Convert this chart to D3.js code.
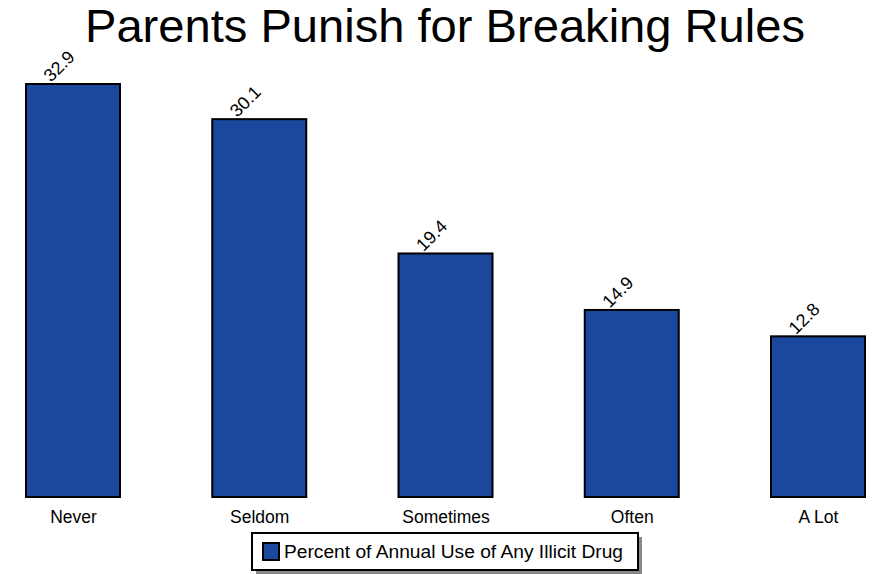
<!DOCTYPE html>
<html><head><meta charset="utf-8">
<script src="https://cdn.jsdelivr.net/npm/d3@7"></script>
<style>body{margin:0;background:#fff;}svg{display:block;font-family:"Liberation Sans",Arial,sans-serif;}</style>
</head><body>
<svg id="chart" width="872" height="574"></svg>
<script>
const categories = ["Never","Seldom","Sometimes","Often","A Lot"];
const values = [32.9, 30.1, 19.4, 14.9, 12.8];
const valueLabels = ["32.9","30.1","19.4","14.9","12.8"];
const seriesName = "Percent of Annual Use of Any Illicit Drug";
const titleText = "Parents Punish for Breaking Rules";

const svg = d3.select("#chart");
const baseY = 497;
const x = d3.scalePoint().domain(categories).range([73, 818]);
const barW = 94;
const y = d3.scaleLinear().domain([0, 32.9]).range([baseY, 84]);
const color = "#1B479C";

svg.append("text").attr("x", 85).attr("y", 42)
  .attr("font-size", 46).attr("fill","#000")
  .attr("textLength", 720).attr("lengthAdjust","spacingAndGlyphs")
  .text(titleText);

svg.selectAll("rect.bar").data(values).join("rect").attr("class","bar")
  .attr("x", (d,i)=>x(categories[i]) - barW/2)
  .attr("y", d=>y(d))
  .attr("width", barW)
  .attr("height", d=>baseY - y(d))
  .attr("fill", color).attr("stroke","#000").attr("stroke-width",2);

svg.selectAll("text.val").data(values).join("text").attr("class","val")
  .attr("text-anchor","middle").attr("font-size",18)
  .attr("transform",(d,i)=>`translate(${x(categories[i]) - 14},${y(d) - 18}) rotate(-45)`)
  .attr("dy","0.35em")
  .text((d,i)=>valueLabels[i]);

const axis = d3.axisBottom(x).tickSize(0).tickPadding(0);
const ag = svg.append("g").attr("transform",`translate(0,${baseY})`).call(axis);
ag.select(".domain").remove();
ag.selectAll("text").attr("font-size",17.5).attr("font-family","Liberation Sans, Arial, sans-serif")
  .attr("fill","#000").attr("dy",null).attr("y",26);

// legend
const lg = svg.append("g");
lg.append("rect").attr("x",256).attr("y",537).attr("width",386).attr("height",37).attr("fill","#888");
lg.append("rect").attr("x",252).attr("y",533).attr("width",386).attr("height",37).attr("fill","#fff").attr("stroke","#000").attr("stroke-width",2);
lg.append("rect").attr("x",263).attr("y",543).attr("width",16).attr("height",17).attr("fill",color).attr("stroke","#000").attr("stroke-width",2);
lg.append("text").attr("x",284).attr("y",558).attr("font-size",17.5).attr("fill","#000")
  .attr("textLength",339).attr("lengthAdjust","spacingAndGlyphs").text(seriesName);
</script>
</body></html>
